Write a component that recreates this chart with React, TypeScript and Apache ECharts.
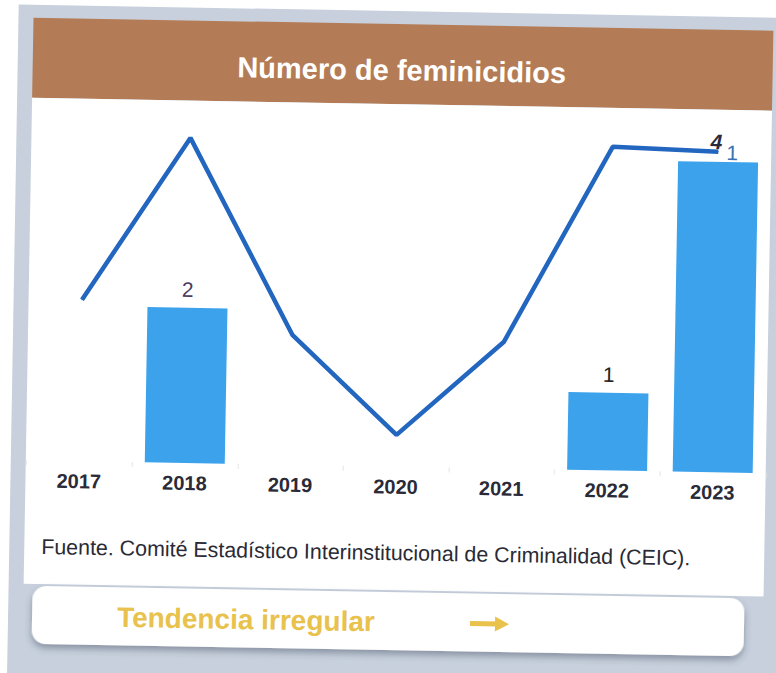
import React, { useEffect, useRef } from "react";
import * as echarts from "echarts";

const years = ["2017", "2018", "2019", "2020", "2021", "2022", "2023"];
const barValues = [null, 2, null, null, null, 1, 4];
const barLabelTexts = ["", "2", "", "", "", "1", "1"];
const lineValues = [2.08, 4.19, 1.67, 0.41, 1.63, 4.17, 4.13];
const lineLabelTexts = ["", "", "", "", "", "", "4"];
const titleText = "Número de feminicidios";
const sourceText = "Fuente. Comité Estadístico Interinstitucional de Criminalidad (CEIC).";
const trendText = "Tendencia irregular";

const O = 20; // oversize margin of the rotated canvas
const FONT = "'Liberation Sans', Arial, Helvetica, sans-serif";

export default function App() {
  const ref = useRef<HTMLDivElement>(null);

  useEffect(() => {
    if (!ref.current) return;
    const chart = echarts.init(ref.current, undefined, { renderer: "svg" });

    const barLabelStyles = [
      null,
      { color: "#4a3c60", offset: [0, 0] },
      null,
      null,
      null,
      { color: "#1e1e24", offset: [0, 0] },
      { color: "#3a70b4", offset: [14, 9] },
    ];

    const barData = barValues.map((v, i) => {
      if (v === null) return null;
      const st = barLabelStyles[i] || { color: "#222", offset: [0, 0] };
      return {
        value: v,
        label: {
          show: true,
          position: "top",
          distance: 8,
          formatter: () => barLabelTexts[i],
          color: st.color,
          offset: st.offset,
          fontSize: 21,
          fontFamily: FONT,
        },
      };
    });

    const lineData = lineValues.map((v, i) => ({
      value: v,
      label: {
        show: lineLabelTexts[i] !== "",
        position: "top",
        distance: -1,
        offset: [-2, 0],
        formatter: () => lineLabelTexts[i],
        color: "#2a2a3c",
        fontSize: 21,
        fontStyle: "italic",
        fontWeight: "bold",
        fontFamily: FONT,
      },
    }));

    chart.setOption({
      animation: false,
      backgroundColor: "#ffffff",
      graphic: [
        {
          type: "rect",
          z: -10,
          shape: { x: 13 + O, y: 11 + O, width: 820, height: 720 },
          style: { fill: "#c7d0dc" },
        },
        {
          type: "rect",
          z: -9,
          shape: { x: 28 + O, y: 24 + O, width: 740, height: 80 },
          style: { fill: "#b47c56" },
        },
        {
          type: "rect",
          z: -9,
          shape: { x: 28 + O, y: 104 + O, width: 740, height: 486 },
          style: { fill: "#ffffff" },
        },
        {
          type: "rect",
          z: -8,
          shape: { x: 37 + O, y: 592 + O, width: 712, height: 58, r: 14 },
          style: {
            fill: "#ffffff",
            shadowBlur: 7,
            shadowOffsetY: 4,
            shadowColor: "rgba(60,70,90,0.45)",
          },
        },
        {
          type: "text",
          z: 10,
          x: 397 + O,
          y: 70 + O,
          style: {
            text: titleText,
            fill: "#ffffff",
            font: `bold 29px ${FONT}`,
            align: "center",
            verticalAlign: "middle",
          },
        },
        {
          type: "text",
          z: 10,
          x: 45 + O,
          y: 553 + O,
          style: {
            text: sourceText,
            fill: "#2a2a35",
            font: `21.4px ${FONT}`,
            align: "left",
            verticalAlign: "middle",
          },
        },
        {
          type: "text",
          z: 10,
          x: 122 + O,
          y: 622 + O,
          style: {
            text: trendText,
            fill: "#e8c24c",
            font: `bold 28px ${FONT}`,
            align: "left",
            verticalAlign: "middle",
          },
        },
        {
          type: "line",
          z: 10,
          shape: { x1: 475 + O, y1: 622 + O, x2: 505 + O, y2: 622 + O },
          style: { stroke: "#e8c24c", lineWidth: 5 },
        },
        {
          type: "polygon",
          z: 10,
          shape: {
            points: [
              [500 + O, 614.5 + O],
              [514 + O, 622 + O],
              [500 + O, 629.5 + O],
            ],
          },
          style: { fill: "#e8c24c" },
        },
      ],
      grid: {
        left: 28.6 + O,
        top: 117.3 + O,
        width: 739.2,
        height: 349.2,
        containLabel: false,
      },
      xAxis: {
        type: "category",
        data: years,
        boundaryGap: true,
        axisLine: { show: false },
        axisTick: {
          show: true,
          length: 5,
          lineStyle: { color: "#e4e4e8", width: 1 },
        },
        axisLabel: {
          margin: 10,
          color: "#2a2a38",
          fontSize: 20,
          fontWeight: "bold",
          fontFamily: FONT,
        },
        splitLine: { show: false },
      },
      yAxis: {
        type: "value",
        min: 0,
        max: 4.5,
        show: false,
        splitLine: { show: false },
      },
      series: [
        {
          type: "bar",
          data: barData,
          barWidth: 80,
          itemStyle: { color: "#3ca2ec" },
          z: 2,
        },
        {
          type: "line",
          data: lineData,
          showSymbol: true,
          symbol: "circle",
          symbolSize: 1,
          itemStyle: { color: "#2266c0" },
          lineStyle: { color: "#2266c0", width: 4.5 },
          z: 3,
        },
      ],
    });

    return () => chart.dispose();
  }, []);

  return (
    <div
      style={{
        position: "fixed",
        left: 0,
        top: 0,
        width: 776,
        height: 673,
        overflow: "hidden",
        background: "#ffffff",
      }}
    >
      <div
        ref={ref}
        style={{
          position: "absolute",
          left: -O,
          top: -O,
          width: 776 + 2 * O,
          height: 673 + 2 * O,
          transform: "rotate(1deg)",
          transformOrigin: "50% 50%",
        }}
      />
    </div>
  );
}
